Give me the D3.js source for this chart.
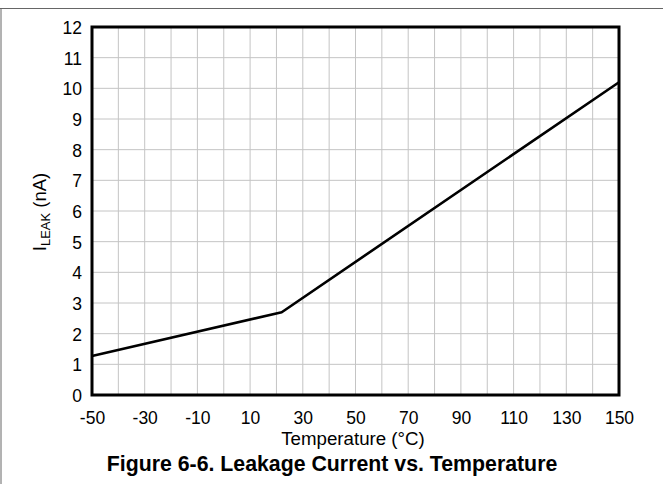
<!DOCTYPE html>
<html lang="en">
<head>
<meta charset="UTF-8">
<title>Leakage Current vs. Temperature</title>
<script src="https://d3js.org/d3.v7.min.js"></script>
<style>
  body { margin: 0; background: #fff; }
  text { font-family: "Liberation Sans", Arial, sans-serif; fill: #000; }
  .grid line { stroke: #c4c4c4; stroke-width: 1; }
</style>
</head>
<body>
<script>
  // values
  var temps = [-50, 22, 150];
  var leak = [1.27, 2.7, 10.2];
  var xTicks = [-50, -30, -10, 10, 30, 50, 70, 90, 110, 130, 150];
  var yTicks = [0, 1, 2, 3, 4, 5, 6, 7, 8, 9, 10, 11, 12];

  var W = 663, H = 484;
  var plot = { left: 92, top: 27, right: 619, bottom: 395 };

  var svg = d3.select("body").append("svg")
      .attr("width", W)
      .attr("height", H);

  // page frame lines
  svg.append("line").attr("x1", 0).attr("x2", W).attr("y1", 8.5).attr("y2", 8.5)
      .style("stroke", "#666").style("stroke-width", 1);
  svg.append("line").attr("x1", 1).attr("x2", 1).attr("y1", 8.5).attr("y2", H)
      .style("stroke", "#666").style("stroke-width", 1);

  var x = d3.scaleLinear().domain([-50, 150]).range([plot.left, plot.right]);
  var y = d3.scaleLinear().domain([0, 12]).range([plot.bottom, plot.top]);

  // grid, every 10 degC and every 1 nA
  var g = svg.append("g").attr("class", "grid");
  g.selectAll(".vx").data(d3.range(-40, 150, 10)).enter().append("line")
      .attr("x1", function (d) { return x(d); })
      .attr("x2", function (d) { return x(d); })
      .attr("y1", plot.top).attr("y2", plot.bottom);
  g.selectAll(".hy").data(d3.range(1, 12)).enter().append("line")
      .attr("x1", plot.left).attr("x2", plot.right)
      .attr("y1", function (d) { return y(d); })
      .attr("y2", function (d) { return y(d); });

  // axes labels (plain hyphen for negatives, like the original)
  var fmt = function (d) { return String(d); };
  var xAxis = d3.axisBottom(x).tickValues(xTicks).tickSize(0).tickPadding(16.5).tickFormat(fmt);
  var ax = svg.append("g").attr("transform", "translate(0," + plot.bottom + ")").call(xAxis);
  ax.select(".domain").remove();
  ax.selectAll("text").style("font-size", "17.5px");

  var yAxis = d3.axisLeft(y).tickValues(yTicks).tickSize(0).tickPadding(10).tickFormat(fmt);
  var ay = svg.append("g").attr("transform", "translate(" + plot.left + ",0)").call(yAxis);
  ay.select(".domain").remove();
  ay.selectAll("text").style("font-size", "17.5px").attr("dy", "0.38em");

  // the curve
  var pts = temps.map(function (t, i) { return [t, leak[i]]; });
  svg.append("path")
      .datum(pts)
      .attr("d", d3.line().x(function (d) { return x(d[0]); }).y(function (d) { return y(d[1]); }))
      .style("fill", "none")
      .style("stroke", "#000")
      .style("stroke-width", 2.6)
      .style("stroke-linejoin", "round");

  // plot frame
  svg.append("rect")
      .attr("x", plot.left).attr("y", plot.top)
      .attr("width", plot.right - plot.left).attr("height", plot.bottom - plot.top)
      .style("fill", "none").style("stroke", "#000").style("stroke-width", 3);

  // titles
  svg.append("text")
      .attr("x", 353).attr("y", 445)
      .attr("text-anchor", "middle")
      .style("font-size", "18.7px")
      .text("Temperature (\u00B0C)");

  var yl = svg.append("text")
      .attr("transform", "translate(46,212) rotate(-90)")
      .attr("text-anchor", "middle")
      .style("font-size", "18.5px");
  yl.append("tspan").text("I");
  yl.append("tspan").attr("dy", 4).style("font-size", "13px").text("LEAK");
  yl.append("tspan").attr("dy", -4).text(" (nA)");

  svg.append("text")
      .attr("x", 332).attr("y", 471)
      .attr("text-anchor", "middle")
      .style("font-size", "21.3px")
      .style("font-weight", "bold")
      .text("Figure 6-6. Leakage Current vs. Temperature");
</script>
</body>
</html>
